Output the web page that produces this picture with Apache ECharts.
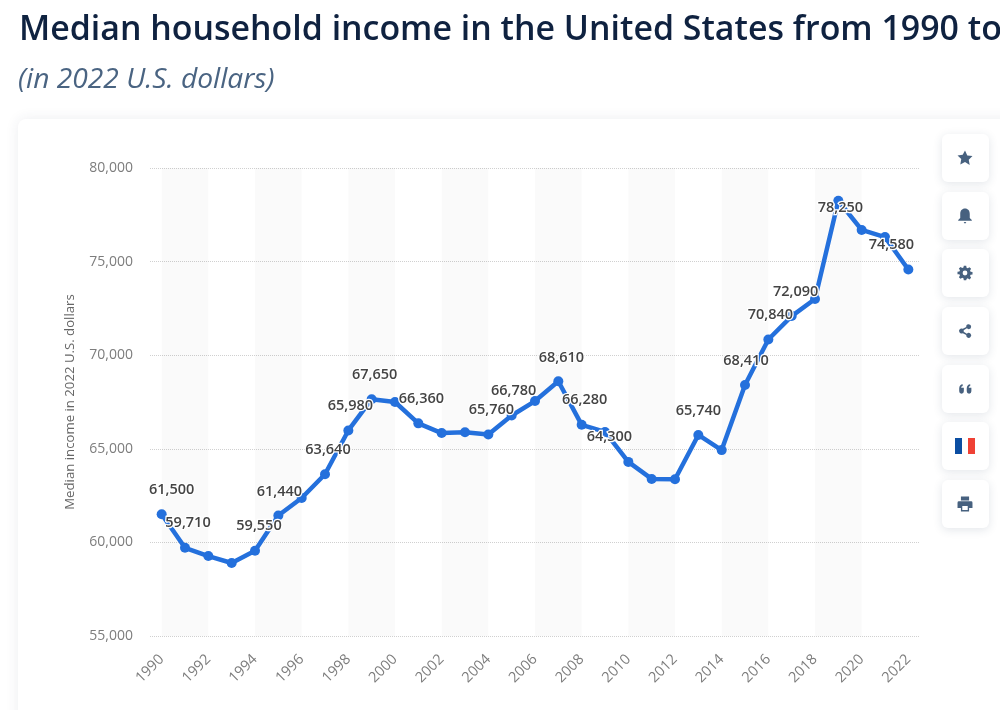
<!DOCTYPE html>
<html><head><meta charset="utf-8">
<style>html,body{margin:0;padding:0;background:#fff;overflow:hidden}#c{width:1000px;height:710px}</style>
<script src="https://cdn.jsdelivr.net/npm/echarts@6/dist/echarts.min.js"></script>
</head><body><div id="c"></div>
<script>
const years = ['1990','1991','1992','1993','1994','1995','1996','1997','1998','1999','2000','2001','2002','2003','2004','2005','2006','2007','2008','2009','2010','2011','2012','2013','2014','2015','2016','2017','2018','2019','2020','2021','2022'];
const income = [61500,59710,59270,58900,59550,61440,62370,63640,65980,67650,67500,66360,65840,65880,65760,66780,67550,68610,66280,65900,64300,63390,63370,65740,64930,68410,70840,72090,73000,78250,76690,76310,74580];
const labelledYears = ['1990','1991','1994','1995','1997','1998','1999','2001','2004','2005','2007','2008','2010','2013','2015','2016','2017','2019','2022'];
const labelShift = {'1990':[10,-7],'1991':[3,-7],'1994':[4,-7],'1995':[1,-6],'1997':[3,-7],'1998':[2,-7],'1999':[3,-7],'2001':[3,-7],'2004':[3,-7],'2005':[2,-7],'2007':[3,-6],'2008':[3,-7],'2010':[-19,-8],'2013':[0,-7],'2015':[1,-7],'2016':[2,-7],'2017':[4,-7],'2019':[2,25],'2022':[-17,-7]};
const shadedStarts = ['1990','1994','1998','2002','2006','2010','2014','2018'];
const shadedEnds   = ['1992','1996','2000','2004','2008','2012','2016','2020'];
const titleText = 'Median household income in the United States from 1990 to 2022';
const subtitleText = '(in 2022 U.S. dollars)';
const yAxisTitle = 'Median income in 2022 U.S. dollars';

const ink = '#47617f';
const buttonCentres = [158,216,273,331,389,446,504];
const iconPaths = {
  star:'M12 1l3.4 7.2 7.6 1-5.5 5.4 1.4 7.8L12 17.7 5.1 21.4l1.4-7.8L1 8.2l7.6-1z',
  bell:'M12 1c4.5 0 7 3.5 7 8v6l3 3v1H2v-1l3-3V9c0-4.5 2.500-8 7-8zM10 21h4l-2 2.500z',
  gear:'M10 0h4l.6 3.200 2 .9 2.800-1.800 2.800 2.800-1.800 2.800.9 2 3.200.6v4l-3.200.6-.9 2 1.800 2.800-2.800 2.800-2.800-1.800-2 .9L14 24h-4l-.6-3.200-2-.9-2.800 1.800-2.800-2.800 1.800-2.800-.9-2L-.5 14v-4l3.200-.6.9-2-1.800-2.800 2.800-2.800 2.800 1.800 2-.9zM12 8a4 4 0 1 0 0 8 4 4 0 0 0 0-8z',
  share:'M18 1a4 4 0 1 1-3 6.700L9.800 10.600a4 4 0 0 1 0 2.800L15 16.300a4 4 0 1 1-1 2.200l-5.500-3a4 4 0 1 1 0-7l5.500-3A4 4 0 0 1 18 1z',
  quote:'M5 4a4 4 0 0 1 4 4v5c0 4-2.500 7-6 7v-3c1.500 0 2.500-1.500 2.500-3H1V8a4 4 0 0 1 4-4zM18 4a4 4 0 0 1 4 4v5c0 4-2.500 7-6 7v-3c1.500 0 2.500-1.500 2.500-3H14V8a4 4 0 0 1 4-4z',
  print:'M6 1h12v6H6zM3 8h18a2 2 0 0 1 2 2v8h-5v5H6v-5H1v-8a2 2 0 0 1 2-2zM8 15v6h8v-6z'
};
Object.keys(iconPaths).forEach(k => echarts.graphic.registerShape('icon_'+k, echarts.graphic.extendPath(iconPaths[k], {})));
const button = cy => ({type:'rect',shape:{x:942,y:cy-24,width:47,height:48,r:6},
  style:{fill:'#fff',shadowBlur:10,shadowColor:'rgba(40,60,90,0.13)',shadowOffsetY:2},z:5});
const icon = (k,cy,s) => ({type:'icon_'+k,x:965-12*s,y:cy-12*s,scaleX:s,scaleY:s,style:{fill:ink},z:6});
const flippedIcon = (k,cy,s) => ({type:'icon_'+k,x:965+12*s,y:cy+12*s,scaleX:-s,scaleY:-s,style:{fill:ink},z:6});

const graphics = [
  {type:'rect',shape:{x:18,y:119,width:1100,height:700,r:8},style:{fill:'#fff',shadowBlur:14,shadowColor:'rgba(40,60,90,0.09)'},z:-10},
  ...buttonCentres.map(button),
  icon('star',buttonCentres[0],0.68),
  icon('bell',buttonCentres[1],0.68),
  icon('gear',buttonCentres[2],0.6),
  icon('share',buttonCentres[3],0.62),
  flippedIcon('quote',buttonCentres[4],0.58),
  {type:'rect',shape:{x:955,y:438,width:7,height:16},style:{fill:'#0b4ea2'},z:6},
  {type:'rect',shape:{x:962,y:438,width:6,height:16},style:{fill:'#ffffff'},z:6},
  {type:'rect',shape:{x:968,y:438,width:7,height:16},style:{fill:'#ef4135'},z:6},
  icon('print',buttonCentres[6],0.68)
];

const seriesData = years.map((y,i) => {
  const item = {value: income[i]};
  if (labelledYears.includes(y)) {
    item.label = {show:true, formatter: p => p.value.toLocaleString('en-US')};
  }
  return item;
});

const chart = echarts.init(document.getElementById('c'));
chart.setOption({
  animation:false,
  backgroundColor:'#fff',
  textStyle:{fontFamily:'"Open Sans"'},
  title:[
    {text:titleText,left:19,top:13,padding:0,textStyle:{fontFamily:'"Open Sans"',fontSize:33.9,fontWeight:600,color:'#0f2240'}},
    {text:subtitleText,left:18,top:66,padding:0,textStyle:{fontFamily:'"Open Sans"',fontSize:28.2,fontWeight:400,fontStyle:'italic',color:'#4a6482'}}
  ],
  grid:{left:150,top:168,width:770,height:468,containLabel:false},
  xAxis:{type:'category',data:years,boundaryGap:true,
    axisLine:{show:false},axisTick:{show:false},splitLine:{show:false},
    axisLabel:{interval:1,rotate:45,color:'#7d7d7d',fontSize:14.5,margin:21,align:'right',verticalAlign:'middle'}},
  yAxis:{type:'value',min:55000,max:80000,interval:5000,
    name:yAxisTitle,nameLocation:'middle',nameGap:73,nameRotate:90,
    nameTextStyle:{color:'#666',fontSize:13.2},
    axisLine:{show:false},axisTick:{show:false},
    axisLabel:{color:'#7d7d7d',fontSize:14,margin:17,formatter:v=>v.toLocaleString('en-US')},
    splitLine:{show:true,lineStyle:{type:'dotted',color:'#d0d0d0',width:1}}},
  series:[{
    type:'line',data:seriesData,symbol:'circle',symbolSize:10,showAllSymbol:true,
    lineStyle:{color:'#2470dc',width:4.5,join:'round'},
    itemStyle:{color:'#2470dc'},
    label:{show:false,position:'top',color:'#444',fontSize:14.5,fontWeight:600,textBorderColor:'#fff',textBorderWidth:2.5},
    labelLayout:p => { const s = labelShift[years[p.dataIndex]]; return s ? {dx:s[0],dy:s[1],hideOverlap:false} : {}; },
    markArea:{silent:true,itemStyle:{color:'rgba(0,0,0,0.02)'},
      data:shadedStarts.map((s,i)=>[{xAxis:s},{xAxis:shadedEnds[i]}])}
  }],
  graphic:graphics
});
</script></body></html>
